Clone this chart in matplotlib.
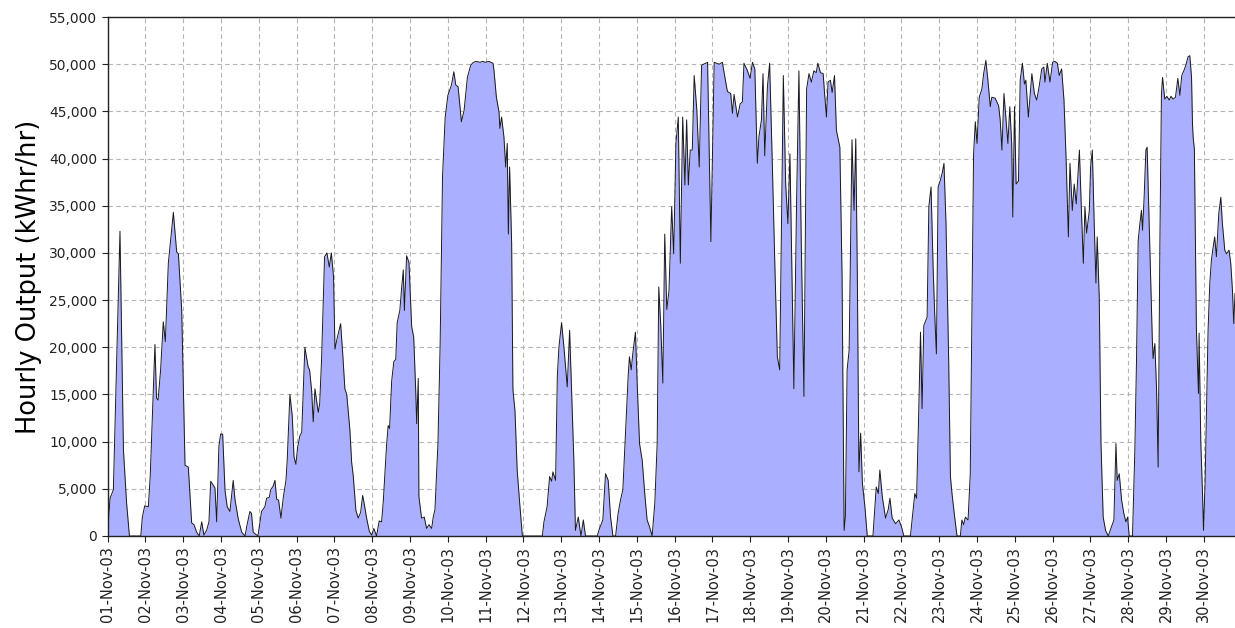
import matplotlib
matplotlib.use("Agg")
import matplotlib.pyplot as plt
from matplotlib.ticker import FuncFormatter

# hours since 01-Nov-03 00:00
hour = [
    0, 1.5, 3.6, 7.8, 10, 12, 13.8, 21, 22, 23.5,
    25.8, 27, 29, 30, 31, 32, 33.6, 35.3, 36.6, 38.5, 41.7, 43.8, 44.9, 47,
    49.1, 51.2, 53.3, 54.8, 56.5, 58.1, 59.7, 61.1, 62.8, 64.3, 65.4, 68.1, 69.2, 70.6,
    71.7, 73, 74.5, 75.9, 77.6, 79.7, 80.8, 82.9, 85.1, 87.2, 88.5, 90.3, 91.3, 92.4, 95.4,
    97.7, 99.8, 100.9, 102.6, 103.5, 105.1, 106.2, 107.3, 108.5, 110, 111.5, 113.2, 114,
    115.7, 117.2, 118.3, 119.5, 120.6, 122, 123.2, 124.2, 125.2, 127.3, 128.2, 129.5,
    130.5, 131.6, 132.5, 133.7, 134.6, 135.8, 137.7, 139.2, 140.7, 142, 143.4,
    144.3, 145.5, 147.9, 149.2, 150.6, 151.8, 153.8, 154.9, 155.9, 157.6, 159.1, 160.6,
    161.9, 163, 164.4, 166.1, 167.6, 169, 170.7, 172.4, 173.9, 175, 177.1, 178.1, 179,
    180.3, 181.7, 182.9, 183.8, 185.5, 186.7, 187.7, 188.4, 189.8, 191.3, 193, 194.3,
    195.5, 196.2, 197.2, 197.6, 199.3, 201, 202.5, 204, 205.7, 206.7, 207.8, 209.7,
    211.1, 212.6, 214.3, 216, 217.5, 218.3, 219.8, 221, 222.5, 224.6, 226.3, 228.4,
    230.5, 232.2, 234, 236.5, 238, 240, 242, 244.7, 245.3, 246.8, 248.5, 249, 250.1,
    251.6, 252.7, 253.7, 254.4, 255.2, 256.5, 257.3, 258.6, 260, 261.6, 263.3,
    276, 277, 279, 280.6, 281.9, 282.7, 284.4, 285.5, 286.5, 288.2, 289.7, 291.8,
    293.3, 294.5, 296, 297, 298.8, 300.5, 302, 303.4, 310.8, 312.3, 314.4, 316.1,
    317.8, 319.3, 320.8, 322.5, 324.1, 325.6, 327.1, 328.8, 330.5, 331.3, 332.4,
    333.4, 335.1, 336.2, 337.7, 339.4, 341, 342.5, 344, 345.7, 347.4, 348.9, 349.9,
    351.2, 352.5, 353.7, 355, 356.4, 358.1, 359.4, 360.8, 362.3, 363.6, 365.1, 366.5,
    367.6, 368.7, 369.9, 371.2, 372.4, 374.1, 375.6, 377.1, 380.9, 383, 385.1, 388.2,
    390.3, 391.3, 393.5, 395.6, 396.7, 397.7, 399.9, 401.6, 403, 404, 406, 407.9,
    409.4, 410.9, 412.5, 413.5, 415.1, 416.1, 417.2, 418.9, 420.3, 422, 423.7, 425.2,
    426.7, 427.7, 429, 430.5, 431.9, 433.2, 434.7, 435.7, 437.4, 438.9, 440.4, 442.1,
    443.8, 445.3, 446.8, 448.4, 449.9, 450.9, 452.6, 454.3, 455.1, 456.4, 457.4,
    458.9, 460, 461.5, 462.7, 464.9, 466.3, 467.6, 468.4, 469.5, 470.8, 472, 472.6,
    473.9, 475, 476, 477, 478.1, 479.2, 480.8, 482.3, 485.9, 488, 489.3, 490.3, 491.8,
    493.9, 495.6, 496.7, 498.1, 500.3, 502.4, 504, 505.5, 509.7, 511.2, 512.5, 513.6,
    515, 516.1, 517.1, 518.2, 520.3, 521.4, 522.8, 524.1, 525.1, 526.2, 527.3, 528.7,
    529.8, 531, 532.3, 534, 535.1, 536.1, 537.8, 539.3, 541.4, 542.4, 543.5, 544.6,
    546.3, 547.7, 548.8, 549.8, 550.9, 552, 553.4, 555.1, 556.2, 557.6, 558.9, 560.4,
    561.4, 563.5, 565.7, 566.7, 567.8, 569.1, 570.3, 571.6, 572.8, 574, 574.7, 575.8,
    576.8, 578.3, 579.4, 580.8, 582.1, 583, 584.6, 586.8, 588.4, 589.9, 591.4, 593.1,
    594.4, 595.1, 596.6, 598.3, 600, 601.5, 603, 604.2, 605.7, 607.2, 608.5, 610, 611,
    612.5, 613.7, 615, 617, 618.2, 619.5, 620.5, 621.6, 623.3, 624.1, 625.2, 626.4,
    627.5, 628.3, 629.6, 630.7, 632.1, 633.6, 635.3, 637.4, 638.9, 640.2, 641, 642.3,
    643.8, 645.2, 646.5, 647.6, 648.6, 650.7, 652.2, 653.3, 654.3, 655.4, 656.4, 657.1,
    658.1, 659.2, 660, 661.1, 662.2, 663.3, 663.8, 664.9, 666, 667, 668.1, 669.1,
    669.8, 671.2, 672.5, 674, 675.1, 676.5, 678, 679.5, 680.8, 682, 683.3, 684.6, 686,
    687.1, 688.2, 688.8, 689.2, 690, 691.3, 692.6, 693, 694.1, 695.1, 695.8, 696.8,
    697.7, 698.7, 699.8, 700.8, 701.9, 702.9, 704, 705.5, 706.8, 707.8, 709.3, 710.4,
    712, 713.1, 714.2, 715, 715.8,
]

output = [
    600, 4000, 4900, 32300, 9100, 3500, 0, 0, 2000, 3200,
    3100, 6300, 15800, 20300, 14600, 14400, 17600, 22700, 20600, 28900, 34300, 30100, 29900, 23900,
    7500, 7300, 1400, 1200, 400, 0, 1500, 100, 600, 1500, 5800, 5100, 1500, 9500,
    10800, 10800, 4800, 3100, 2600, 5900, 3900, 1800, 400, 0, 1200, 2600, 2400, 400, 0,
    2600, 3100, 4000, 4100, 4900, 5300, 5900, 3900, 3800, 1900, 4100, 5900, 8100,
    15000, 12700, 8400, 7600, 9400, 10600, 11000, 15600, 20000, 17900, 17600, 15400,
    12100, 15600, 14500, 13100, 14000, 18700, 29600, 30000, 28500, 30000, 27500,
    19800, 20800, 22500, 19400, 15600, 15000, 11200, 7800, 6400, 2700, 1900, 2500,
    4300, 3300, 1900, 500, 100, 800, 0, 1600, 1500, 3700, 9700, 11700, 11400,
    16400, 18500, 18700, 22600, 23900, 26400, 28200, 23900, 29700, 29000, 22200, 21100,
    15800, 11900, 16700, 4200, 1900, 2000, 800, 1200, 800, 2000, 2800, 9800,
    20400, 38100, 44400, 46700, 47400, 47800, 49200, 47800, 47600, 43900, 45100, 48600,
    49900, 50200, 50300, 50200, 50300, 50200, 50300, 50100, 49300, 46500, 44900, 43200, 44400,
    42300, 39100, 41600, 32000, 39100, 31000, 15500, 13300, 7000, 3500, 0,
    0, 1500, 3100, 6300, 5800, 6800, 5900, 16900, 20000, 22600, 20000, 15800,
    21800, 15800, 8000, 600, 2000, 0, 1700, 0, 0, 800, 1700, 6600,
    5900, 2000, 0, 0, 2400, 3800, 4900, 10900, 17000, 19000, 17600,
    19300, 21600, 16200, 9800, 8000, 4500, 1700, 1000, 0, 3500, 9800, 26400,
    22200, 16200, 32000, 24000, 26000, 34900, 29900, 41600, 44400, 28900, 44400, 37200,
    44100, 37200, 40900, 40900, 48800, 45100, 39100, 49900, 50200, 31200, 50200, 50000,
    50200, 49200, 47100, 46900, 44800, 46800, 44400, 45800, 46000, 50100, 49400, 48500,
    50200, 49500, 39500, 42300, 44100, 49000, 40300, 47600, 50100, 39500, 28200, 19000,
    17600, 31000, 48800, 37300, 33100, 40500, 25700, 15600, 35200, 49300, 31000, 14800,
    47400, 49000, 48100, 49300, 49100, 50100, 49100, 49000, 47100, 44400, 48100,
    48300, 47000, 48800, 43000, 41200, 27500, 600, 2000, 17600, 19700, 34500, 42000,
    34500, 42100, 27500, 6800, 10900, 5600, 3100, 0, 0, 5200, 4500, 7000, 4200,
    1900, 2800, 4000, 1900, 1300, 1700, 1000, 0, 0, 2400, 4500, 4000,
    13300, 21600, 13500, 22300, 23200, 34900, 37000, 28500, 23600, 19300, 37000, 37700,
    38400, 39500, 33100, 18600, 6300, 4500, 2000, 0, 0, 1700, 1200, 2000,
    1700, 6600, 23900, 40500, 43900, 41600, 46500, 47400, 49000, 50400, 48300, 45500,
    46500, 46400, 45600, 44100, 40900, 46900, 44400, 41600, 45500, 41600, 33800, 45500,
    37300, 37600, 48300, 50100, 47900, 48300, 44400, 49000, 46900, 46200, 47600, 49500,
    49700, 48100, 50100, 48100, 50200, 50300, 50100, 48800, 49500, 46200, 40200, 31700, 39500,
    34500, 37300, 35200, 40900, 34900, 28900, 34900, 32100, 34500, 39100, 40900, 33100,
    26800, 31700, 25300, 9800, 2000, 600, 0, 1000, 1700, 9800, 5900, 6600,
    3800, 2400, 1500, 2000, 0, 0, 9100, 19000, 31300, 33100, 34500, 32400,
    35900, 40900, 41200, 34500, 27500, 20800, 18800, 20400, 15500, 7300, 31000, 46900,
    48600, 46300, 46600, 46200, 46600, 46300, 46500, 48500, 46700, 48800, 49300, 49900, 50800,
    50900, 48600, 43700, 42300, 41000, 21800, 15100, 21500, 9800, 4900, 600, 5600,
    13300, 21800, 26800, 29200, 30600, 31700, 29600, 34200, 35900, 33100, 30300, 29900,
    30300, 28900, 26000, 22500, 25700,
]

day_labels = ["%02d-Nov-03" % d for d in range(1, 31)]

fig = plt.figure(figsize=(12.35, 6.28), dpi=100)
ax = fig.add_axes([0.0872, 0.1465, 0.9128, 0.8264])

ax.fill_between(hour, output, 0, color="#aab0ff", lw=0, zorder=2)
ax.plot(hour, output, color="#1a1a1a", lw=0.7, zorder=3)

ax.set_xlim(0, 715.8)
ax.set_ylim(0, 55000)
ax.set_xticks([24 * i for i in range(30)])
ax.set_xticklabels(day_labels, rotation=90, fontsize=10.5, color="#222222")
ax.set_yticks(range(0, 55001, 5000))
ax.yaxis.set_major_formatter(FuncFormatter(lambda v, p: f"{int(v):,}"))
ax.tick_params(axis="y", labelsize=10, colors="#222222", length=4, width=0.8)
ax.tick_params(axis="x", length=4, width=0.8, colors="#222222")

ax.grid(True, color="#b4b4b4", linestyle=(0, (4, 3)), linewidth=0.8, zorder=1)
ax.set_axisbelow(True)
ax.spines["right"].set_visible(False)
for s in ["left", "bottom", "top"]:
    ax.spines[s].set_color("#222222")
    ax.spines[s].set_linewidth(1.0)

ax.set_ylabel("Hourly Output (kWhr/hr)", fontsize=18.5, labelpad=5)

fig.savefig("out.png", dpi=100)
